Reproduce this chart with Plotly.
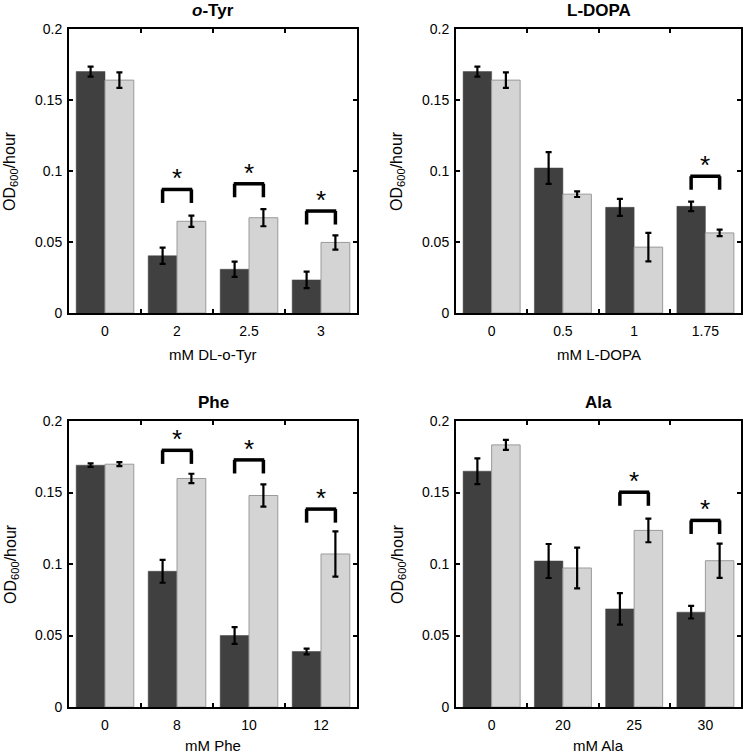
import plotly.graph_objects as go

W, H = 745, 756

# ---------------- data ----------------
tyr_labels = ["0", "2", "2.5", "3"]
tyr_dark = [0.170, 0.0403, 0.0308, 0.0233]
tyr_dark_err = [0.0035, 0.0057, 0.0054, 0.0058]
tyr_light = [0.164, 0.0646, 0.0671, 0.0497]
tyr_light_err = [0.0055, 0.0040, 0.0060, 0.0050]
tyr_sig_idx = [1, 2, 3]
tyr_sig_top = [0.0870, 0.0910, 0.0718]

dopa_labels = ["0", "0.5", "1", "1.75"]
dopa_dark = [0.170, 0.1021, 0.0744, 0.0751]
dopa_dark_err = [0.0035, 0.0112, 0.0060, 0.0034]
dopa_light = [0.164, 0.0837, 0.0464, 0.0564]
dopa_light_err = [0.0055, 0.0020, 0.0100, 0.0023]
dopa_sig_idx = [3]
dopa_sig_top = [0.0963]

phe_labels = ["0", "8", "10", "12"]
phe_dark = [0.1691, 0.0949, 0.0500, 0.0388]
phe_dark_err = [0.0012, 0.0080, 0.0058, 0.0020]
phe_light = [0.1698, 0.1598, 0.1479, 0.1070]
phe_light_err = [0.0014, 0.0033, 0.0078, 0.0158]
phe_sig_idx = [1, 2, 3]
phe_sig_top = [0.1795, 0.1728, 0.1384]

ala_labels = ["0", "20", "25", "30"]
ala_dark = [0.1649, 0.1021, 0.0686, 0.0663]
ala_dark_err = [0.0090, 0.0119, 0.0110, 0.0044]
ala_light = [0.1833, 0.0972, 0.1235, 0.1023]
ala_light_err = [0.0035, 0.0143, 0.0083, 0.0120]
ala_sig_idx = [2, 3]
ala_sig_top = [0.1502, 0.1305]

titles = ["<b><i>o</i>-Tyr</b>", "<b>L-DOPA</b>", "<b>Phe</b>", "<b>Ala</b>"]
xtitles = ["mM DL-o-Tyr", "mM L-DOPA", "mM Phe", "mM Ala"]
ytitle = "OD<sub>600</sub>/hour"

panels = [
    (tyr_labels, tyr_dark, tyr_dark_err, tyr_light, tyr_light_err, tyr_sig_idx, tyr_sig_top),
    (dopa_labels, dopa_dark, dopa_dark_err, dopa_light, dopa_light_err, dopa_sig_idx, dopa_sig_top),
    (phe_labels, phe_dark, phe_dark_err, phe_light, phe_light_err, phe_sig_idx, phe_sig_top),
    (ala_labels, ala_dark, ala_dark_err, ala_light, ala_light_err, ala_sig_idx, ala_sig_top),
]

# ---------------- layout geometry (pixels) ----------------
boxes = [  # left, right, top, bottom
    (69, 357, 29, 313),
    (456, 741, 29, 313),
    (69, 357, 421, 707),
    (456, 741, 421, 707),
]
xtitle_gap = [42, 42, 38, 38]

DARK = "#404040"
LIGHT = "#d4d4d4"
LIGHT_EDGE = "#9a9a9a"
LEG = 0.0095
FONT = "Liberation Sans, Arial, sans-serif"

fig = go.Figure()
shapes = []
annotations = []

for k, (labels, dk, dke, lt, lte, sidx, stop) in enumerate(panels):
    n = k + 1
    xa = "x" if n == 1 else f"x{n}"
    ya = "y" if n == 1 else f"y{n}"
    fig.add_trace(go.Bar(
        x=labels, y=dk, xaxis=xa, yaxis=ya, offsetgroup="a",
        marker=dict(color=DARK, line=dict(color=DARK, width=0.5)),
        error_y=dict(type="data", array=dke, color="black", thickness=2.2, width=3),
        showlegend=False,
    ))
    fig.add_trace(go.Bar(
        x=labels, y=lt, xaxis=xa, yaxis=ya, offsetgroup="b",
        marker=dict(color=LIGHT, line=dict(color=LIGHT_EDGE, width=1)),
        error_y=dict(type="data", array=lte, color="black", thickness=2.2, width=3),
        showlegend=False,
    ))

    l, r, t, b = boxes[k]
    xdom = [l / W, r / W]
    ydom = [1 - b / H, 1 - t / H]
    axis_common = dict(showline=True, linecolor="black", linewidth=2, mirror="ticks",
                       ticks="inside", tickcolor="black", tickwidth=1.5, ticklen=4,
                       showgrid=False, zeroline=False, automargin=False,
                       tickfont=dict(family=FONT, size=14, color="black"))
    fig.layout[("xaxis" if n == 1 else f"xaxis{n}")] = dict(
        domain=xdom, anchor=ya, type="category", tickson="boundaries",
        range=[-0.5, 3.5], ticklabelstandoff=4, **axis_common)
    fig.layout[("yaxis" if n == 1 else f"yaxis{n}")] = dict(
        domain=ydom, anchor=xa, range=[0, 0.2], dtick=0.05, tick0=0,
        ticklabelstandoff=2, **axis_common)

    xref, yref = xa, ya
    for i, top in zip(sidx, stop):
        x0, x1 = i - 0.2, i + 0.2
        ln = dict(color="black", width=3.5)
        shapes.append(dict(type="line", xref=xref, yref=yref, x0=x0, x1=x0, y0=top - LEG, y1=top, line=ln))
        shapes.append(dict(type="line", xref=xref, yref=yref, x0=x1, x1=x1, y0=top - LEG, y1=top, line=ln))
        shapes.append(dict(type="line", xref=xref, yref=yref, x0=x0 - 0.012, x1=x1 + 0.012, y0=top, y1=top, line=ln))
        annotations.append(dict(x=i, y=top, xref=xref, yref=yref, text="*", showarrow=False,
                                yanchor="middle", yshift=11,
                                font=dict(family=FONT, size=26, color="black")))

    cx = (l + r) / 2 / W
    annotations.append(dict(x=cx, y=1 - (t - 19) / H, xref="paper", yref="paper",
                            text=titles[k], showarrow=False, xanchor="center", yanchor="middle",
                            font=dict(family=FONT, size=17, color="black")))
    annotations.append(dict(x=cx, y=1 - (b + xtitle_gap[k]) / H, xref="paper", yref="paper",
                            text=xtitles[k], showarrow=False, xanchor="center", yanchor="middle",
                            borderpad=0,
                            font=dict(family=FONT, size=15, color="black")))
    annotations.append(dict(x=(l - 58) / W, y=1 - (t + b) / 2 / H, xref="paper", yref="paper",
                            text=ytitle, textangle=-90, showarrow=False,
                            xanchor="center", yanchor="middle",
                            font=dict(family=FONT, size=16, color="black")))

fig.update_layout(
    width=W, height=H,
    margin=dict(l=0, r=0, t=0, b=0, pad=0, autoexpand=False),
    paper_bgcolor="white", plot_bgcolor="white",
    barmode="group", bargap=0.2, bargroupgap=0,
    shapes=shapes, annotations=annotations,
    showlegend=False,
)

fig.write_html("out.html",
               config={"displayModeBar": False},
               post_script="document.body.style.margin='0';document.body.style.overflow='hidden';")
